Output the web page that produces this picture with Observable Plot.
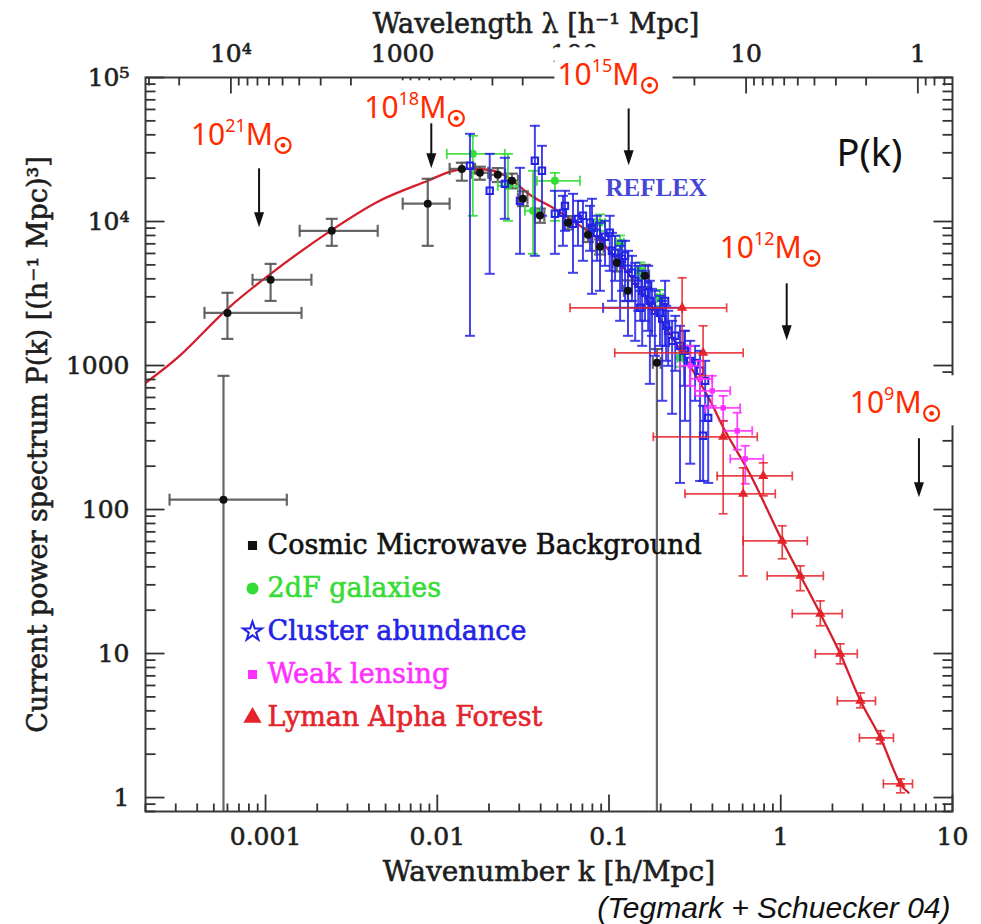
<!DOCTYPE html>
<html><head><meta charset="utf-8">
<script src="https://cdn.jsdelivr.net/npm/d3@7"></script>
<script src="https://cdn.jsdelivr.net/npm/@observablehq/plot@0.6"></script>
<style>body{margin:0;background:#fff}#chart{width:981px;height:924px}</style>
</head><body><div id="chart"></div>
<script>
// ---------- data ----------
const curveK = [1.97e-4, 3.16e-4, 6.0e-4, 1.07e-3, 2.39e-3, 4.62e-3, 8.81e-3, 0.0118, 0.0149, 0.0231, 0.036, 0.0471, 0.0616, 0.0886, 0.1325, 0.198, 0.296, 0.388, 0.474, 0.664, 1.02, 1.70, 2.22, 2.91, 3.80, 4.98, 5.54];
const curveP = [747, 1168, 2476, 4334, 8610, 13930, 19190, 22150, 23230, 21800, 14860, 12450, 10110, 7350, 4200, 2108, 996, 569, 352, 175, 60.6, 18.9, 9.96, 4.70, 2.60, 1.24, 1.08];

const cmbK   = [5.69e-4, 6.0e-4, 1.07e-3, 2.43e-3, 8.8e-3, 0.0139, 0.0177, 0.0225, 0.0272, 0.0315, 0.0396, 0.0577, 0.0754, 0.0886, 0.111, 0.129, 0.162, 0.19];
const cmbP   = [117, 2320, 3940, 8620, 13300, 23200, 21800, 21100, 19200, 14400, 11000, 9800, 8080, 6670, 5170, 3300, 4200, 1044];
const cmbKLo = [2.76e-4, 4.41e-4, 8.4e-4, 1.58e-3, 6.29e-3, 0.0118, 0.0158, 0.0205, 0.025, 0.0295, 0.037, 0.054, 0.071, 0.084, 0.105, 0.122, 0.153, 0.18];
const cmbKHi = [1.33e-3, 1.62e-3, 1.85e-3, 4.5e-3, 0.0118, 0.0166, 0.0198, 0.0248, 0.0295, 0.0335, 0.042, 0.061, 0.080, 0.093, 0.117, 0.136, 0.171, 0.2];
const cmbPLo = [0.1, 1530, 2810, 6780, 6780, 19200, 19500, 18800, 17000, 12800, 9800, 8800, 7200, 5900, 4500, 2800, 3500, 0.1];
const cmbPHi = [848, 3200, 5080, 10440, 19800, 25600, 24000, 23500, 21500, 16200, 12300, 10900, 9000, 7500, 5900, 3900, 5000, 1300];

const tdfK   = [0.0161, 0.0258, 0.0361, 0.0484, 0.0886, 0.116, 0.152, 0.198, 0.259];
const tdfP   = [29500, 17700, 11870, 19170, 9795, 7110, 4550, 2950, 1130];
const tdfKLo = [0.01136, 0.0225, 0.0324, 0.038, 0.083, 0.11, 0.145, 0.19, 0.25];
const tdfKHi = [0.02475, 0.0295, 0.0401, 0.0678, 0.095, 0.122, 0.16, 0.207, 0.27];
const tdfPLo = [10960, 10110, 5966, 10110, 8600, 6300, 4000, 2600, 980];
const tdfPHi = [39370, 29510, 22500, 21790, 11200, 8000, 5200, 3350, 1300];

const clusK   = [0.0155, 0.0202, 0.02475, 0.0303, 0.037, 0.0407, 0.0484, 0.0617, 0.0796, 0.0886, 0.104, 0.116, 0.129, 0.142, 0.156, 0.173, 0.185, 0.204, 0.221, 0.233, 0.259, 0.297, 0.339, 0.378, 0.353, 0.0705, 0.0539, 0.152, 0.101, 0.124, 0.169, 0.212, 0.277,
                 0.0554, 0.066, 0.0775, 0.0851, 0.0948, 0.1084, 0.119, 0.136, 0.148, 0.162, 0.178, 0.198, 0.215, 0.243, 0.274, 0.317, 0.363];
const clusP   = [24370, 16340, 18270, 13920, 26400, 22500, 11310, 9638, 9044, 7345, 6259, 5167, 4694, 3875, 3302, 2813, 2399, 2110, 1742, 1484, 1370, 1078, 919, 433, 325, 10960, 11490, 2516, 8347, 5780, 3577, 2813, 1265,
                 12850, 10440, 9795, 8347, 7831, 6062, 5508, 4404, 3693, 3198, 2597, 2323, 1887, 1608, 1306, 1044, 783];
const clusPLo = [1608, 4334, 10440, 5966, 5780, 10960, 5966, 4404, 3148, 3302, 2813, 2044, 1608, 1484, 1370, 746, 1168, 569, 995, 462, 153, 208, 158, 153, 158, 5335, 6782, 2044, 4546, 2813, 1742, 1370, 413,
                 8617, 6782, 6259, 5335, 4924, 3875, 3302, 2813, 2399, 2044, 1608, 1370, 1078, 919, 723, 569, 413];
const clusPHi = [40640, 29510, 27700, 23600, 46200, 33550, 16340, 15570, 14380, 9795, 8347, 6782, 6259, 5167, 4546, 3875, 3302, 2813, 2399, 2044, 1887, 1484, 1265, 616, 525, 13920, 15080, 3302, 10960, 7345, 4924, 3875, 1742,
                 16340, 13920, 12850, 10960, 10110, 7957, 7345, 5780, 4924, 4197, 3409, 3048, 2597, 2213, 1742, 1370, 1078];
// the one cluster point with a wide horizontal error bar
const clusWideK = [0.152], clusWideP = [2516], clusWideKLo = [0.0923], clusWideKHi = [0.2665];

const wlK   = [0.297, 0.339, 0.399, 0.462, 0.558, 0.621];
const wlP   = [995, 808, 667, 508, 352, 225];
const wlKLo = [0.259, 0.297, 0.317, 0.363, 0.462, 0.508];
const wlKHi = [0.339, 0.399, 0.508, 0.580, 0.682, 0.791];
const wlPLo = [723, 616, 525, 413, 260, 151];
const wlPHi = [1370, 1078, 848, 616, 470, 277];

const lyaK   = [0.2665, 0.353, 0.462, 0.791, 0.604, 1.02, 1.30, 1.70, 2.22, 2.91, 3.80, 4.98];
const lyaP   = [2516, 1225, 320, 171, 128.5, 60.6, 34.6, 18.9, 9.95, 4.69, 2.60, 1.245];
const lyaKLo = [0.0593, 0.108, 0.181, 0.426, 0.277, 0.604, 0.834, 1.167, 1.59, 2.135, 2.87, 3.96];
const lyaKHi = [0.484, 0.604, 0.73, 1.167, 0.929, 1.427, 1.77, 2.28, 2.79, 3.56, 4.53, 5.85];
const lyaPLo = [1265, 850, 93.4, 124.5, 34.6, 45.5, 27.3, 15.6, 8.48, 4.20, 2.36, 1.078];
const lyaPHi = [4064, 1887, 413, 211, 194.8, 77.1, 40.6, 23.2, 11.68, 5.33, 2.91, 1.349];

const massExp       = ["21", "18", "15", "12", "9"];
const massArrowK    = [9.23e-4, 9.29e-3, 0.131, 1.09, 6.42];
const massArrowTop  = [23220, 47700, 60500, 3693, 310];
const massArrowTip  = [9040, 23220, 24370, 1484, 120.6];
const massLabelK    = [3.70e-4, 3.78e-3, 0.0504, 0.444, 2.54];
const massLabelP    = [33550, 51670, 87600, 5508, 462];

const legendLabels = ["Cosmic Microwave Background", "2dF galaxies", "Cluster abundance", "Weak lensing", "Lyman Alpha Forest"];

const kTickValues = [0.001, 0.01, 0.1, 1, 10];
const kTickLabels = ["0.001", "0.01", "0.1", "1", "10"];
const pTickValues = [1, 10, 100, 1000, 1e4, 1e5];
const pTickLabels = ["1", "10", "100", "1000", "10⁴", "10⁵"];
const lambdaTickValues = [1e4, 1000, 100, 10, 1];
const lambdaTickLabels = ["10⁴", "1000", "100", "10", "1"];

const xTitle = "Wavenumber k [h/Mpc]";
const topTitle = "Wavelength λ [h⁻¹ Mpc]";
const yTitle = "Current power spectrum P(k) [(h⁻¹ Mpc)³]";
const caption = "(Tegmark + Schuecker 04)";

// ---------- helpers ----------
const kDomain = [2e-4, 10], pDomain = [0.8, 1e5];
const rows = (k, p, kLo, kHi, pLo, pHi) => k.map((v, i) => ({k: v, p: p[i], kLo: kLo ? kLo[i] : null, kHi: kHi ? kHi[i] : null, pLo: pLo ? pLo[i] : null, pHi: pHi ? pHi[i] : null}));
const cmb  = rows(cmbK, cmbP, cmbKLo, cmbKHi, cmbPLo, cmbPHi);
const tdf  = rows(tdfK, tdfP, tdfKLo, tdfKHi, tdfPLo, tdfPHi);
const clus = rows(clusK, clusP, null, null, clusPLo, clusPHi);
const clusWide = rows(clusWideK, clusWideP, clusWideKLo, clusWideKHi, null, null);
const wl   = rows(wlK, wlP, wlKLo, wlKHi, wlPLo, wlPHi);
const lya  = rows(lyaK, lyaP, lyaKLo, lyaKHi, lyaPLo, lyaPHi);
const curve = curveK.map((k, i) => ({k, p: curveP[i]}));

const seg = (x1, y1, x2, y2) => ({draw(ctx) { ctx.moveTo(x1, y1); ctx.lineTo(x2, y2); }});

function errorBars(data, color, width, cap, opacity) {
  const h = data.filter(d => d.kLo != null);
  const v = data.filter(d => d.pLo != null);
  const common = {stroke: color, strokeWidth: width, strokeOpacity: opacity, clip: true};
  return [
    Plot.ruleX(v, {x: "k", y1: "pLo", y2: "pHi", ...common}),
    Plot.ruleY(h, {y: "p", x1: "kLo", x2: "kHi", ...common}),
    Plot.dot(v, {x: "k", y: "pLo", symbol: seg(-cap, 0, cap, 0), fill: "none", ...common}),
    Plot.dot(v, {x: "k", y: "pHi", symbol: seg(-cap, 0, cap, 0), fill: "none", ...common}),
    Plot.dot(h, {x: "kLo", y: "p", symbol: seg(0, -cap, 0, cap), fill: "none", ...common}),
    Plot.dot(h, {x: "kHi", y: "p", symbol: seg(0, -cap, 0, cap), fill: "none", ...common})
  ];
}

const isMajor = v => Math.abs(Math.log10(v) - Math.round(Math.log10(v))) < 1e-9;
const kTicksAll = d3.scaleLog().domain(kDomain).ticks();
const pTicksAll = d3.scaleLog().domain(pDomain).ticks();
const lTicksAll = d3.scaleLog().domain([2 * Math.PI / kDomain[1], 2 * Math.PI / kDomain[0]]).ticks();
const tickCol = "#333";
function tickMarks(values, chan, anchor, majLen, minLen, dirX, dirY) {
  const common = {frameAnchor: anchor, fill: "none", stroke: tickCol, strokeWidth: 1.8};
  return [
    Plot.dot(values.filter(isMajor), {[chan[0]]: chan[1], symbol: seg(0, 0, dirX * majLen, dirY * majLen), ...common}),
    Plot.dot(values.filter(v => !isMajor(v)), {[chan[0]]: chan[1], symbol: seg(0, 0, dirX * minLen, dirY * minLen), ...common})
  ];
}

const serifFont = "DejaVu Serif, Liberation Serif, serif";
const textCol = "#1e1e1e";
const heavy = col => ({fill: col, stroke: col, strokeWidth: 0.6, fontFamily: serifFont});
const C = {cmb: "#111111", cmbBar: "#555555", green: "#35dc35", blue: "#2323e6", magenta: "#ff30ff", red: "#e5232b", curve: "#d41e2c", anno: "#ff2a00"};
const legendStyle = [
  {color: C.cmb, symbol: "square", fill: C.cmb, r: 4},
  {color: C.green, symbol: "circle", fill: C.green, r: 5},
  {color: C.blue, symbol: "star", fill: "white", r: 6},
  {color: C.magenta, symbol: "square", fill: C.magenta, r: 4},
  {color: C.red, symbol: "triangle", fill: C.red, r: 5.5}
];

const legendMarks = legendLabels.flatMap((lab, i) => [
  Plot.dot([lab], {frameAnchor: "top-left", dx: 107, dy: 468 + i * 43, symbol: legendStyle[i].symbol, r: legendStyle[i].r, fill: legendStyle[i].fill, stroke: legendStyle[i].color, strokeWidth: 2}),
  Plot.text([lab], {frameAnchor: "top-left", dx: 122, dy: 468 + i * 43, text: d => d, textAnchor: "start", lineAnchor: "middle", fontSize: 27, ...heavy(legendStyle[i].color)})
]);

const fig = Plot.plot({
  width: 981, height: 924,
  marginLeft: 145, marginRight: 29, marginTop: 77, marginBottom: 113,
  x: {type: "log", domain: kDomain, axis: null},
  y: {type: "log", domain: pDomain, axis: null},
  style: {background: "white"},
  marks: [
    Plot.line(curve, {x: "k", y: "p", stroke: C.curve, strokeWidth: 2.3, curve: "catmull-rom", clip: true}),
    ...errorBars(cmb, C.cmbBar, 2.2, 6, 0.9),
    ...errorBars(tdf, C.green, 1.8, 5, 0.9),
    Plot.dot(tdf, {x: "k", y: "p", fill: C.green, r: 4, clip: true}),
    ...errorBars(clus, C.blue, 2, 5, 0.85),
    ...errorBars(clusWide, C.blue, 2, 5, 0.85),
    Plot.dot(clus, {x: "k", y: "p", symbol: "square", fill: "none", stroke: C.blue, strokeWidth: 2, r: 3.6, clip: true}),
    ...errorBars(wl, C.magenta, 1.8, 4.5, 0.9),
    Plot.dot(wl, {x: "k", y: "p", symbol: "square", fill: C.magenta, r: 3, clip: true}),
    ...errorBars(lya, C.red, 1.7, 4.5, 0.85),
    Plot.dot(lya, {x: "k", y: "p", symbol: "triangle", fill: C.red, r: 3.8, clip: true}),
    Plot.dot(cmb, {x: "k", y: "p", fill: C.cmb, r: 4, clip: true}),
    // frame and ticks (inward on all four sides)
    Plot.frame({stroke: "#3a3a3a", strokeWidth: 2}),
    ...tickMarks(kTicksAll, ["x", d => d], "bottom", 17, 8, 0, -1),
    ...tickMarks(lTicksAll, ["x", d => 2 * Math.PI / d], "top", 16, 8, 0, 1),
    ...tickMarks(pTicksAll, ["y", d => d], "left", 19, 10, 1, 0),
    ...tickMarks(pTicksAll, ["y", d => d], "right", 19, 10, -1, 0),
    // tick labels and titles
    Plot.text(kTickValues, {x: d => d, text: (d, i) => kTickLabels[i], frameAnchor: "bottom", dy: 25, lineAnchor: "middle", fontSize: 25, ...heavy(textCol)}),
    Plot.text(pTickValues, {y: d => d, text: (d, i) => pTickLabels[i], frameAnchor: "left", dx: -16, textAnchor: "end", lineAnchor: "middle", fontSize: 25, ...heavy(textCol)}),
    Plot.text(lambdaTickValues, {x: d => 2 * Math.PI / d, text: (d, i) => lambdaTickLabels[i], frameAnchor: "top", dy: -24, lineAnchor: "middle", fontSize: 25, ...heavy(textCol)}),
    Plot.text([xTitle], {text: d => d, frameAnchor: "bottom", dy: 61, textAnchor: "middle", lineAnchor: "middle", fontSize: 28, ...heavy(textCol)}),
    Plot.text([topTitle], {text: d => d, frameAnchor: "top", dx: -13, dy: -53, textAnchor: "middle", lineAnchor: "middle", fontSize: 27, ...heavy(textCol)}),
    Plot.text([yTitle], {text: d => d, frameAnchor: "left", dx: -107, rotate: -90, textAnchor: "middle", lineAnchor: "middle", fontSize: 27, ...heavy(textCol)}),
    Plot.text(["REFLEX"], {text: d => d, frameAnchor: "top-left", dx: 460, dy: 110, textAnchor: "start", lineAnchor: "middle", fill: "#4646d6", fontSize: 25, fontWeight: "bold", fontFamily: "Liberation Serif, DejaVu Serif, serif"}),
    Plot.text(["P(k)"], {text: d => d, frameAnchor: "top-right", dx: -50, dy: 76, textAnchor: "end", lineAnchor: "middle", fill: "#111", fontSize: 38, fontFamily: "Noto Sans, Lato, sans-serif"}),
    Plot.text([caption], {text: d => d, frameAnchor: "bottom-right", dx: -2, dy: 97, textAnchor: "end", lineAnchor: "middle", fill: "#111", fontSize: 30, fontStyle: "italic", fontFamily: "Liberation Sans, Arial, sans-serif"}),
    ...legendMarks
  ]
});
document.getElementById("chart").append(fig);

// ---------- mass-scale annotations, placed through the plot's own scales ----------
const sx = fig.scale("x"), sy = fig.scale("y");
const layer = d3.select(fig).append("g").attr("class", "mass-annotations").attr("text-anchor", "start");
massExp.forEach((e, i) => {
  const lx = sx.apply(massLabelK[i]), ly = sy.apply(massLabelP[i]);
  const box = layer.append("rect").attr("fill", "white");
  const t = layer.append("text").attr("x", lx).attr("y", ly).attr("fill", C.anno)
    .attr("text-anchor", "start")
    .attr("font-family", "Noto Sans, Lato, sans-serif").attr("font-size", 30);
  t.append("tspan").text("10");
  t.append("tspan").attr("dy", -13).attr("font-size", 18).text(e);
  t.append("tspan").attr("dy", 13).text("M");
  const w = t.node().getComputedTextLength();
  const cx = lx + w + 10;
  layer.append("circle").attr("cx", cx).attr("cy", ly).attr("r", 7.5).attr("fill", "none").attr("stroke", C.anno).attr("stroke-width", 2.2);
  layer.append("circle").attr("cx", cx).attr("cy", ly).attr("r", 2.4).attr("fill", C.anno);
  box.attr("x", lx - 3).attr("y", ly - 38).attr("width", w + 36).attr("height", 50);
  const ax = sx.apply(massArrowK[i]), a1 = sy.apply(massArrowTop[i]), a2 = sy.apply(massArrowTip[i]);
  layer.append("line").attr("x1", ax).attr("x2", ax).attr("y1", a1).attr("y2", a2 - 8)
    .attr("stroke", "#111").attr("stroke-width", 2);
  layer.append("path").attr("d", `M${ax - 5},${a2 - 15}L${ax + 5},${a2 - 15}L${ax},${a2}Z`).attr("fill", "#111");
});
</script></body></html>
